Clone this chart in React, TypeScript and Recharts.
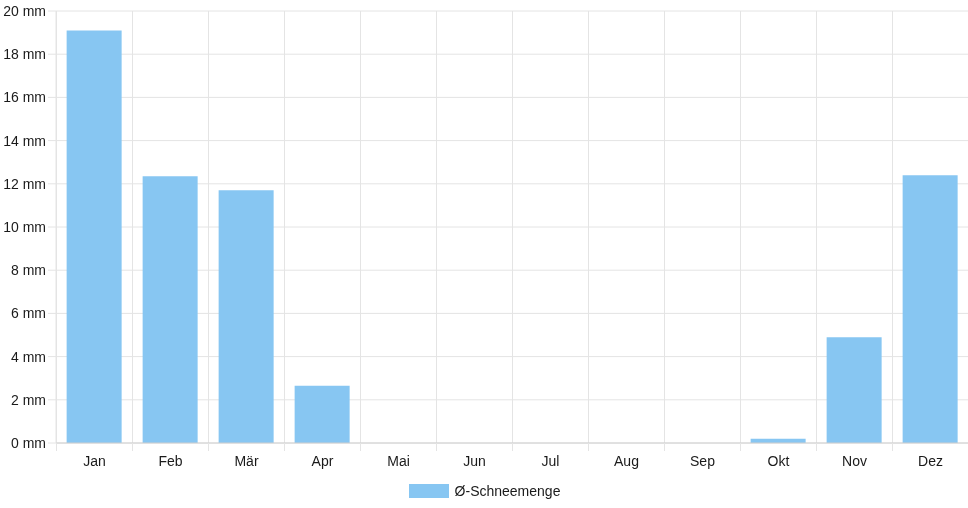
import { BarChart, Bar, XAxis, YAxis, CartesianGrid, Legend } from 'recharts'

const months = ['Jan', 'Feb', 'Mär', 'Apr', 'Mai', 'Jun', 'Jul', 'Aug', 'Sep', 'Okt', 'Nov', 'Dez']
const snow = [19.1, 12.35, 11.7, 2.65, 0, 0, 0, 0, 0, 0.2, 4.9, 12.4]
const yTicks = [0, 2, 4, 6, 8, 10, 12, 14, 16, 18, 20]
const seriesName = 'Ø-Schneemenge'

const rows = months.map((m, i) => ({ month: m, snow: snow[i] }))

const W = 968
const H = 508
const LEFT = 56
const RIGHT = 0
const BAND = (W - LEFT - RIGHT) / months.length

const font = '"Liberation Sans", Arial, sans-serif'
const gridColor = '#e4e4e4'
const blue = '#87c6f2'

// eslint-disable-next-line @typescript-eslint/no-explicit-any
function MonthTick({ x, y, payload }: any) {
  // little tick under the axis at the left edge of each category
  const bx = x - BAND / 2 + 0.5
  return (
    <g>
      <line x1={bx} x2={bx} y1={y - 13} y2={y - 5} stroke={gridColor} />
      <text x={x + 0.5} y={y} dy="0.71em" textAnchor="middle" fill="#1a1a1a" fontSize={14} fontFamily={font}>
        {payload.value}
      </text>
    </g>
  )
}

// eslint-disable-next-line @typescript-eslint/no-explicit-any
function MmTick({ x, y, payload }: any) {
  return (
    <text x={x} y={y} dy="0.355em" textAnchor="end" fill="#1a1a1a" fontSize={14} fontFamily={font}>
      {`${payload.value} mm`}
    </text>
  )
}

function LegendBox() {
  return (
    <div style={{ display: 'flex', justifyContent: 'center', alignItems: 'center', height: 35 }}>
      <span style={{ display: 'inline-block', width: 40, height: 14, background: blue, marginRight: 6, marginLeft: 1 }} />
      <span style={{ fontFamily: font, fontSize: 14, color: '#1a1a1a' }}>{seriesName}</span>
    </div>
  )
}

export default function App() {
  return (
    <div style={{ position: 'fixed', left: 0, top: 0, width: W, height: H }}>
      <style>{'body{margin:0;overflow:hidden}'}</style>
      <BarChart
        width={W}
        height={H}
        data={rows}
        margin={{ top: 11, right: RIGHT, left: 0, bottom: 0 }}
        barCategoryGap="14%"
      >
        <CartesianGrid
          stroke={gridColor}
          verticalCoordinatesGenerator={({ offset }: any) =>
            months.map((_, i) => offset.left + i * BAND + 0.5)
          }
        />
        <XAxis
          dataKey="month"
          tick={<MonthTick />}
          tickLine={false}
          tickSize={8}
          tickMargin={5}
          axisLine={{ stroke: '#cfcfcf' }}
          height={30}
          interval={0}
        />
        <YAxis
          width={LEFT}
          domain={[0, 20]}
          ticks={yTicks}
          interval={0}
          tickSize={8}
          tickMargin={2}
          tick={<MmTick />}
          tickLine={{ stroke: gridColor }}
          axisLine={{ stroke: gridColor }}
        />
        <Legend verticalAlign="bottom" content={() => <LegendBox />} />
        <Bar dataKey="snow" name={seriesName} fill={blue} isAnimationActive={false} />
      </BarChart>
    </div>
  )
}
